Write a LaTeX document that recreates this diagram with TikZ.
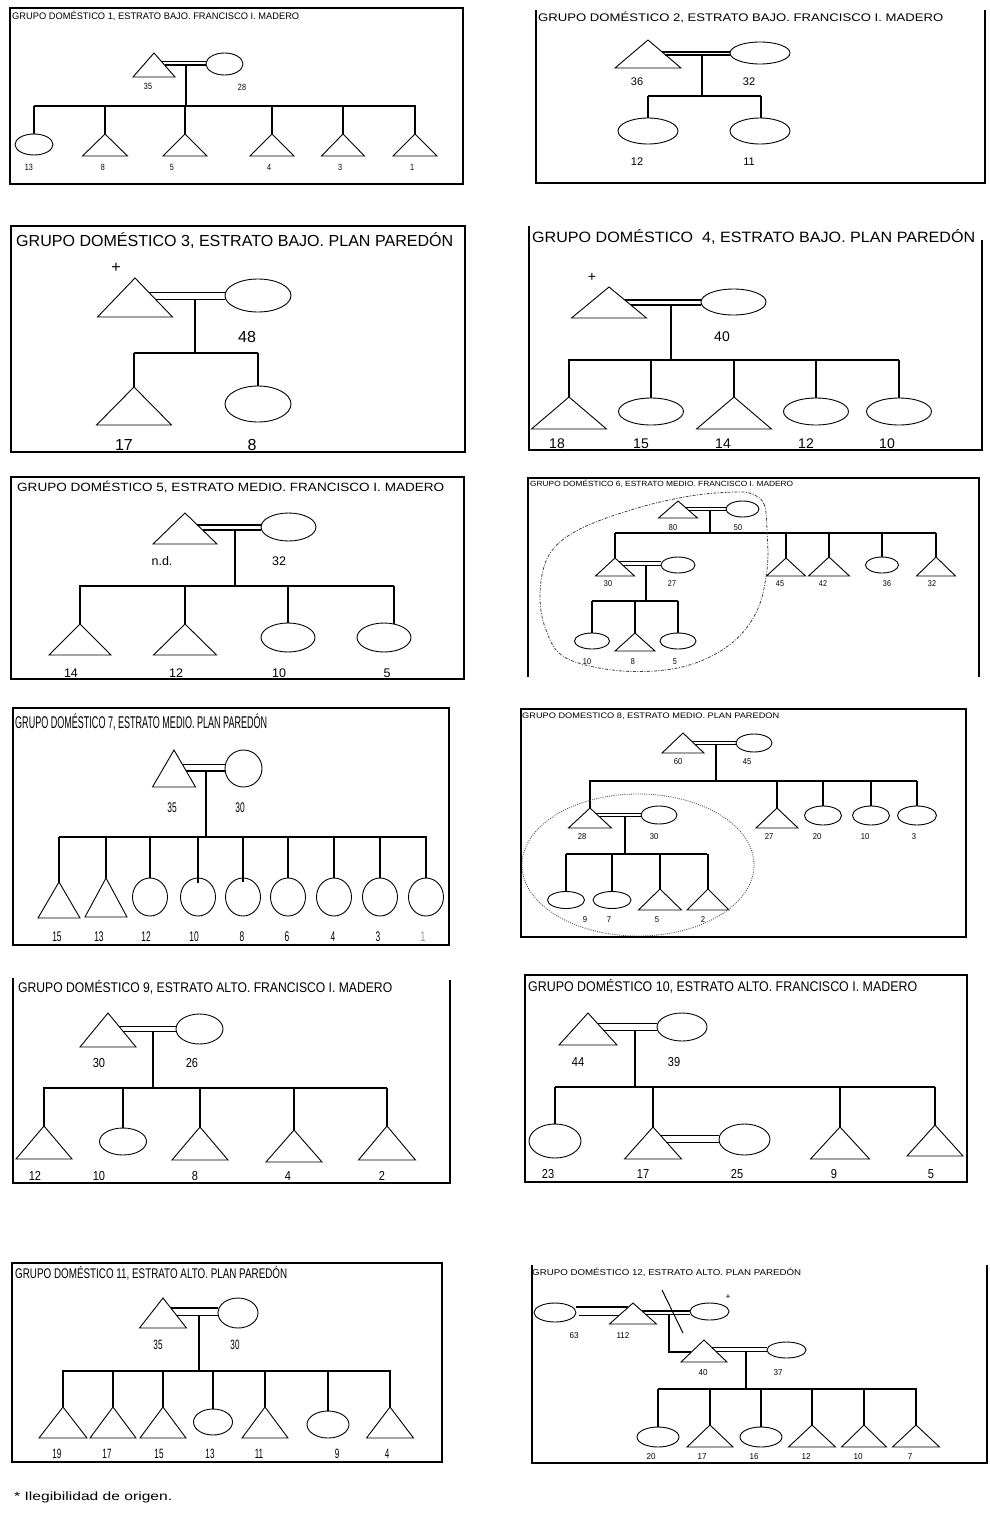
\documentclass[tikz,border=0pt]{standalone}
\usepackage{fontspec}
\setmainfont{Liberation Sans}
\usepackage{graphicx}
\usetikzlibrary{shapes.geometric,calc}
\tikzset{
 box/.style={line width=2.4pt},
 shp/.style={line width=0.9pt, line join=miter},
 ell/.style={ellipse, draw, line width=0.9pt, inner sep=0pt, outer sep=0pt},
 tribox/.style={rectangle, inner sep=0pt, outer sep=0pt},
 link/.style={line width=2pt},
 marr/.style={line width=1.5pt},
 lab/.style={inner sep=0pt},
 ttl/.style={anchor=west, inner sep=0pt},
 dashdotline/.style={line width=0.8pt, black!75, dash pattern=on 3pt off 1.5pt on 1pt off 1.5pt},
 dotline/.style={line width=0.8pt, black!70, dash pattern=on 1pt off 1.2pt},
}
\newcommand\Tri[5]{\node[tribox, minimum width=#4pt, minimum height=#5pt] (#1) at (#2,{#3+#5/2}) {};
 \draw[shp] (#1.south west) -- (#1.north) -- (#1.south east) -- cycle;}
\newcommand\Ell[5]{\node[ell, minimum width=#4pt, minimum height=#5pt] (#1) at (#2,#3) {};}
\newcommand\Marr[4]{%
 \coordinate (#1ma) at ($(#1.north)!#3!(#1.south east)$);
 \coordinate (#1mb) at ($(#1.north)!#4!(#1.south east)$);
 \draw[marr] (#1ma) -- (#1ma -| #2.west);
 \draw[marr] (#1mb) -- (#1mb -| #2.west);}
\newcommand\Desc[4]{\coordinate (#4) at (#2,#3); \draw[link] (#4 |- #1mb) -- (#4);}
\newcommand\Bar[4]{\coordinate (#1l) at (#2,#4); \coordinate (#1r) at (#3,#4); \draw[link] (#1l) -- (#1r);}
\newcommand\Drop[2]{\draw[link] (#1.north) -- (#1.north |- #2);}
\newcommand\Lab[4]{\node[lab] (#1) at (#2,#3) {\scalebox{\labsx}[1]{#4}};}
\newcommand\Ttl[6]{\node[ttl] (#1) at (#2,#3) {\resizebox{#4pt}{\height}{\fontsize{#5}{#5}\selectfont #6}};}
\begin{document}
\begin{tikzpicture}[x=1pt,y=-1pt]
\useasboundingbox (0,0) rectangle (990,1518);
\fill[white] (0,0) rectangle (990,1518);

% ---------------- Panel 1
\begin{scope}[font=\fontsize{9}{9}\selectfont]
\def\labsx{0.8}
\Ttl{t1}{12}{16}{287}{9.5}{GRUPO DOMÉSTICO 1, ESTRATO BAJO. FRANCISCO I. MADERO}
\Tri{p1f}{154}{53}{42}{24}
\Ell{p1m}{224.5}{64}{37}{22}
\Marr{p1f}{p1m}{0.36}{0.5}
\Desc{p1f}{186}{106}{p1v}
\Bar{p1b}{34}{416}{106}
\Ell{p1c1}{34}{144.5}{38}{21}
\Tri{p1c2}{105}{134}{45}{22}
\Tri{p1c3}{185}{134}{44}{22}
\Tri{p1c4}{272}{134}{44}{22}
\Tri{p1c5}{343}{134}{43}{22}
\Tri{p1c6}{415}{134}{44}{22}
\foreach \c in {p1c1,p1c2,p1c3,p1c4,p1c5,p1c6} {\Drop{\c}{p1bl}}
\Lab{p1l1}{148}{86}{35}
\Lab{p1l2}{242}{87}{28}
\Lab{p1l3}{29}{167}{13}
\Lab{p1l4}{103}{167}{8}
\Lab{p1l5}{172}{167}{5}
\Lab{p1l6}{269}{167}{4}
\Lab{p1l7}{340}{167}{3}
\Lab{p1l8}{412}{167}{1}
\draw[box] (10,8) rectangle (463,184);
\end{scope}

% ---------------- Panel 2
\begin{scope}[font=\fontsize{11}{11}\selectfont]
\def\labsx{1}
\Ttl{t2}{538}{17}{405}{11}{GRUPO DOMÉSTICO 2, ESTRATO BAJO. FRANCISCO I. MADERO}
\Tri{p2f}{648}{40}{66}{28}
\Ell{p2m}{760}{53}{60}{22}
\Marr{p2f}{p2m}{0.42}{0.53}
\Desc{p2f}{702}{96}{p2v}
\Bar{p2b}{648}{761}{96}
\Ell{p2c1}{648}{131}{60}{26}
\Ell{p2c2}{760}{131}{60}{26}
\Drop{p2c1}{p2bl}
\draw[link] ([xshift=1pt]p2c2.north) -- ([xshift=1pt]p2c2.north |- p2bl);
\Lab{p2l1}{637}{82}{36}
\Lab{p2l2}{749}{82}{32}
\Lab{p2l3}{637}{162}{12}
\Lab{p2l4}{749}{162}{11}
\draw[box] (536,10) -- (536,183) -- (985,183) -- (985,10);
\end{scope}

% ---------------- Panel 3
\begin{scope}[font=\fontsize{16}{16}\selectfont]
\def\labsx{1}
\Ttl{t3}{16}{241}{437}{16}{GRUPO DOMÉSTICO 3, ESTRATO BAJO. PLAN PAREDÓN}
\node[lab] (p3plus) at (116,268) {+};
\Tri{p3f}{135}{278}{75}{39}
\Ell{p3m}{258}{295.5}{66}{33}
\Marr{p3f}{p3m}{0.377}{0.546}
\Desc{p3f}{195}{353}{p3v}
\Bar{p3b}{134}{258}{353}
\Tri{p3c1}{134}{387}{75}{38}
\Ell{p3c2}{258}{404}{66}{36}
\Drop{p3c1}{p3bl}
\Drop{p3c2}{p3bl}
\Lab{p3l1}{247}{337}{48}
\Lab{p3l2}{124}{445}{17}
\Lab{p3l3}{252}{445}{8}
\fill[white] (11,452) rectangle (465,470);
\draw[box] (11,226) rectangle (465,452);
\end{scope}

% ---------------- Panel 4
\begin{scope}[font=\fontsize{14}{14}\selectfont]
\def\labsx{1}
\Ttl{t4}{532}{237}{443}{15}{GRUPO DOMÉSTICO\ \ 4, ESTRATO BAJO. PLAN PAREDÓN}
\node[lab] (p4plus) at (592,277) {+};
\Tri{p4f}{609}{287}{75}{31}
\Ell{p4m}{733.5}{302}{65}{26}
\Marr{p4f}{p4m}{0.42}{0.58}
\Desc{p4f}{671}{360}{p4v}
\Bar{p4b}{568}{899}{360}
\Tri{p4c1}{569}{397}{75}{32}
\Ell{p4c2}{651}{411.5}{65}{27}
\Tri{p4c3}{734}{397}{75}{32}
\Ell{p4c4}{816}{411.5}{65}{27}
\Ell{p4c5}{899}{411.5}{65}{27}
\foreach \c in {p4c1,p4c2,p4c3,p4c4,p4c5} {\Drop{\c}{p4bl}}
\Lab{p4l1}{722}{337}{40}
\Lab{p4l2}{557}{444}{18}
\Lab{p4l3}{641}{444}{15}
\Lab{p4l4}{723}{444}{14}
\Lab{p4l5}{806}{444}{12}
\Lab{p4l6}{887}{444}{10}
\draw[box] (529,226) -- (529,450) -- (982,450) -- (982,240);
\end{scope}

% ---------------- Panel 5
\begin{scope}[font=\fontsize{12.5}{12.5}\selectfont]
\def\labsx{1}
\Ttl{t5}{17}{487}{427}{12}{GRUPO DOMÉSTICO 5, ESTRATO MEDIO. FRANCISCO I. MADERO}
\Tri{p5f}{185}{513}{64}{31}
\Ell{p5m}{288.5}{527}{55}{28}
\Marr{p5f}{p5m}{0.387}{0.548}
\Desc{p5f}{235}{586}{p5v}
\Bar{p5b}{79}{394}{586}
\Tri{p5c1}{80}{624}{62}{31}
\Tri{p5c2}{185}{624}{63}{31}
\Ell{p5c3}{288}{637.5}{54}{29}
\Ell{p5c4}{384}{637.5}{54}{29}
\Drop{p5c1}{p5bl}
\Drop{p5c2}{p5bl}
\Drop{p5c3}{p5bl}
\draw[link] ([xshift=10pt,yshift=-1pt]p5c4.north) -- ([xshift=10pt]p5c4.north |- p5bl);
\Lab{p5l1}{162}{561}{n.d.}
\Lab{p5l2}{279}{561}{32}
\Lab{p5l3}{71}{673}{14}
\Lab{p5l4}{176}{673}{12}
\Lab{p5l5}{279}{673}{10}
\Lab{p5l6}{387}{673}{5}
\fill[white] (11,679) rectangle (464,695);
\draw[box] (11,477) rectangle (464,679);
\end{scope}

% ---------------- Panel 6
\begin{scope}[font=\fontsize{8.5}{8.5}\selectfont]
\def\labsx{0.85}
\Ttl{t6}{530}{484}{263}{7.5}{GRUPO DOMÉSTICO 6, ESTRATO MEDIO. FRANCISCO I. MADERO}
\Tri{p6f}{678}{501}{39}{17}
\Ell{p6m}{742.5}{509}{33}{16}
\Marr{p6f}{p6m}{0.37}{0.57}
\Desc{p6f}{710}{532.7}{p6v}
\Bar{p6b}{615}{936}{532.7}
\Tri{p6a}{615}{558}{39}{18}
\Ell{p6a2}{678}{565}{34}{16}
\Marr{p6a}{p6a2}{0.2}{0.43}
\Desc{p6a}{646}{600.7}{p6w}
\Bar{p6g}{592}{678}{600.7}
\Ell{p6g1}{592}{641}{35}{16}
\Tri{p6g2}{635}{633}{40}{18}
\Ell{p6g3}{678}{641}{36}{16}
\foreach \c in {p6g1,p6g2,p6g3} {\Drop{\c}{p6gl}}
\Tri{p6b2}{786}{558}{39}{18}
\Tri{p6c}{829}{557}{41}{19}
\Ell{p6d}{882}{565}{33}{16}
\Tri{p6e}{936}{557}{39}{19}
\foreach \c in {p6a,p6b2,p6c,p6d,p6e} {\Drop{\c}{p6bl}}
\Lab{p6l1}{673}{528}{80}
\Lab{p6l2}{738}{528}{50}
\Lab{p6l3}{608}{584}{30}
\Lab{p6l4}{672}{584}{27}
\Lab{p6l5}{780}{584}{45}
\Lab{p6l6}{823}{584}{42}
\Lab{p6l7}{887}{584}{36}
\Lab{p6l8}{932}{584}{32}
\Lab{p6l9}{587}{662}{10}
\Lab{p6l10}{633}{662}{8}
\Lab{p6l11}{675}{662}{5}
\draw[dashdotline] plot[smooth cycle, tension=0.6] coordinates {(752,494) (764,504) (767,530) (767,570) (756,613) (728,646) (682,667) (622,671) (566,658) (546,630) (540,593) (549,555) (578,530) (634,509) (690,496) (735,492)};
\draw[box] (528,677) -- (528,478) -- (979,478) -- (979,677);
\end{scope}

% ---------------- Panel 7
\begin{scope}[font=\fontsize{14}{14}\selectfont]
\def\labsx{0.6}
\Ttl{t7}{15}{722}{252}{17}{GRUPO DOMÉSTICO 7, ESTRATO MEDIO. PLAN PAREDÓN}
\Tri{p7f}{174}{750}{43}{37}
\Ell{p7m}{243.5}{768.5}{37}{37}
\Marr{p7f}{p7m}{0.386}{0.57}
\Desc{p7f}{206}{836.7}{p7v}
\Bar{p7b}{59}{427}{836.7}
\Tri{p7c1}{59}{882}{42}{36}
\Tri{p7c2}{106}{878}{42}{39}
\Ell{p7c3}{150}{897}{35}{38}
\Ell{p7c4}{198}{897}{35}{38}
\Ell{p7c5}{243}{897}{35}{38}
\Ell{p7c6}{288}{897}{35}{38}
\Ell{p7c7}{334}{897}{35}{38}
\Ell{p7c8}{380}{897}{35}{38}
\Ell{p7c9}{426}{897}{35}{38}
\foreach \c in {p7c1,p7c2,p7c3,p7c6,p7c7,p7c8,p7c9} {\Drop{\c}{p7bl}}
\draw[link] ([yshift=-5pt]p7c4.north) -- (p7c4.north |- p7bl);
\draw[link] ([yshift=-4pt]p7c5.north) -- (p7c5.north |- p7bl);
\Lab{p7l1}{172}{808}{35}
\Lab{p7l2}{240}{808}{30}
\Lab{p7l3}{57}{937}{15}
\Lab{p7l4}{99}{937}{13}
\Lab{p7l5}{146}{937}{12}
\Lab{p7l6}{194}{937}{10}
\Lab{p7l7}{242}{937}{8}
\Lab{p7l8}{287}{937}{6}
\Lab{p7l9}{333}{937}{4}
\Lab{p7l10}{378}{937}{3}
\Lab{p7l11}{423}{937}{\textcolor{black!45}{1}}
\draw[box] (13,708) rectangle (449,945);
\end{scope}

% ---------------- Panel 8
\begin{scope}[font=\fontsize{8.5}{8.5}\selectfont]
\def\labsx{0.9}
\Ttl{t8}{522}{716}{257}{8}{GRUPO DOMESTICO 8, ESTRATO MEDIO. PLAN PAREDON}
\Tri{p8f}{683}{733}{42}{20}
\Ell{p8m}{754}{743}{36}{18}
\Marr{p8f}{p8m}{0.435}{0.565}
\Desc{p8f}{716}{780.7}{p8v}
\Bar{p8b}{589}{917}{780.7}
\Tri{p8a}{590}{808}{43}{20}
\Ell{p8a2}{659}{815}{36}{18}
\Marr{p8a}{p8a2}{0.27}{0.435}
\Desc{p8a}{625}{854}{p8w}
\Bar{p8g}{566}{707}{854}
\Ell{p8g1}{566}{900}{37}{17}
\Ell{p8g2}{612}{900}{38}{17}
\Tri{p8g3}{660}{889}{43}{21}
\Tri{p8g4}{708}{889}{42}{21}
\foreach \c in {p8g1,p8g2,p8g3,p8g4} {\Drop{\c}{p8gl}}
\Tri{p8b2}{777}{808}{42}{20}
\Ell{p8c}{823}{815.5}{37}{19}
\Ell{p8d}{871}{815.5}{37}{19}
\Ell{p8e}{917}{815.5}{39}{19}
\foreach \c in {p8a,p8b2,p8c,p8d,p8e} {\Drop{\c}{p8bl}}
\Lab{p8l1}{678}{762}{60}
\Lab{p8l2}{747}{762}{45}
\Lab{p8l3}{582}{837}{28}
\Lab{p8l4}{654}{837}{30}
\Lab{p8l5}{769}{837}{27}
\Lab{p8l6}{817}{837}{20}
\Lab{p8l7}{865}{837}{10}
\Lab{p8l8}{914}{837}{3}
\Lab{p8l9}{585}{920}{9}
\Lab{p8l10}{609}{920}{7}
\Lab{p8l11}{657}{920}{5}
\Lab{p8l12}{703}{920}{2}
\draw[dotline] (638,865) ellipse [x radius=116, y radius=71];
\draw[box] (521,709) rectangle (966,937);
\end{scope}

% ---------------- Panel 9
\begin{scope}[font=\fontsize{13}{13}\selectfont]
\def\labsx{0.85}
\Ttl{t9}{18}{987}{374}{14}{GRUPO DOMÉSTICO 9, ESTRATO ALTO. FRANCISCO I. MADERO}
\Tri{p9f}{108}{1013}{56}{34}
\Ell{p9m}{199.5}{1029}{47}{30}
\Marr{p9f}{p9m}{0.40}{0.55}
\Desc{p9f}{153}{1088.3}{p9v}
\Bar{p9b}{43}{387}{1088.3}
\Tri{p9c1}{44}{1126}{56}{33}
\Ell{p9c2}{123}{1141.5}{47}{27}
\Tri{p9c3}{200}{1127}{56}{33}
\Tri{p9c4}{294}{1130}{56}{32}
\Tri{p9c5}{387}{1126}{57}{34}
\foreach \c in {p9c1,p9c2,p9c3,p9c4,p9c5} {\Drop{\c}{p9bl}}
\Lab{p9l1}{99}{1063}{30}
\Lab{p9l2}{192}{1063}{26}
\Lab{p9l3}{35}{1176}{12}
\Lab{p9l4}{99}{1176}{10}
\Lab{p9l5}{195}{1176}{8}
\Lab{p9l6}{288}{1176}{4}
\Lab{p9l7}{382}{1176}{2}
\draw[box] (13,978) -- (13,1183) -- (450,1183) -- (450,980);
\end{scope}

% ---------------- Panel 10
\begin{scope}[font=\fontsize{13}{13}\selectfont]
\def\labsx{0.85}
\Ttl{t10}{528}{986}{389}{14}{GRUPO DOMÉSTICO 10, ESTRATO ALTO. FRANCISCO I. MADERO}
\Tri{p10f}{588}{1013}{58}{32}
\Ell{p10m}{682}{1027}{50}{28}
\Marr{p10f}{p10m}{0.32}{0.55}
\Desc{p10f}{635}{1087.3}{p10v}
\Bar{p10b}{555}{935}{1087.3}
\Ell{p10c1}{555}{1141}{52}{34}
\Tri{p10c2}{653}{1127}{57}{32}
\Ell{p10c2m}{744.5}{1139.5}{51}{31}
\Marr{p10c2}{p10c2m}{0.27}{0.48}
\Tri{p10c3}{840}{1127}{59}{32}
\Tri{p10c4}{935}{1125}{56}{31}
\foreach \c in {p10c1,p10c2,p10c3,p10c4} {\Drop{\c}{p10bl}}
\Lab{p10l1}{578}{1062}{44}
\Lab{p10l2}{674}{1062}{39}
\Lab{p10l3}{548}{1174}{23}
\Lab{p10l4}{643}{1174}{17}
\Lab{p10l5}{737}{1174}{25}
\Lab{p10l6}{834}{1174}{9}
\Lab{p10l7}{931}{1174}{5}
\draw[box] (525,975) rectangle (967,1182);
\end{scope}

% ---------------- Panel 11
\begin{scope}[font=\fontsize{13.5}{13.5}\selectfont]
\def\labsx{0.6}
\Ttl{t11}{15}{1273}{272}{14}{GRUPO DOMÉSTICO 11, ESTRATO ALTO. PLAN PAREDÓN}
\Tri{p11f}{163}{1298}{47}{30}
\Ell{p11m}{238}{1313}{40}{30}
\Marr{p11f}{p11m}{0.34}{0.59}
\Desc{p11f}{199}{1371}{p11v}
\coordinate (p11bl) at (62,1371); \coordinate (p11br) at (391,1371);
\draw[link, line width=2.6pt] (p11bl) -- (p11br);
\Tri{p11c1}{63}{1407}{48}{31}
\Tri{p11c2}{113}{1407}{46}{31}
\Tri{p11c3}{163}{1407}{46}{31}
\Ell{p11c4}{213}{1422}{39}{26}
\Tri{p11c5}{265}{1407}{46}{31}
\Ell{p11c6}{328}{1424.5}{42}{27}
\Tri{p11c7}{390}{1407}{47}{31}
\foreach \c in {p11c1,p11c2,p11c3,p11c4,p11c5,p11c6,p11c7} {\Drop{\c}{p11bl}}
\Lab{p11l1}{158}{1345}{35}
\Lab{p11l2}{235}{1345}{30}
\Lab{p11l3}{57}{1454}{19}
\Lab{p11l4}{107}{1454}{17}
\Lab{p11l5}{159}{1454}{15}
\Lab{p11l6}{210}{1454}{13}
\Lab{p11l7}{259}{1454}{11}
\Lab{p11l8}{337}{1454}{9}
\Lab{p11l9}{387}{1454}{4}
\draw[box] (12,1263) rectangle (442,1462);
\end{scope}

% ---------------- Panel 12
\begin{scope}[font=\fontsize{8.5}{8.5}\selectfont]
\def\labsx{0.95}
\Ttl{t12}{532}{1272}{269}{8.5}{GRUPO DOMÉSTICO 12, ESTRATO ALTO. PLAN PAREDÓN}
\Ell{p12w1}{555}{1312.5}{42}{19}
\Tri{p12h}{633}{1303}{47}{21}
\Ell{p12w2}{709.5}{1311.5}{39}{17}
\node[lab] (p12plus) at (728,1297) {+};
\coordinate (p12ha) at ($(p12h.north)!0.2!(p12h.south west)$);
\coordinate (p12hb) at ($(p12h.north)!0.6!(p12h.south west)$);
\draw[marr] (p12w1.east |- p12ha) -- (p12ha);
\draw[marr] ([xshift=3pt]p12w1.east |- p12hb) -- (p12hb);
\Marr{p12h}{p12w2}{0.38}{0.54}
\coordinate (p12x1) at (662,1290); \coordinate (p12x2) at (683,1333);
\draw[line width=1pt] (p12x1) -- (p12x2);
\Tri{p12s}{704}{1340}{46}{22}
\coordinate (p12sl) at ($(p12s.north)!0.545!(p12s.south west)$);
\coordinate (p12v) at (669,1352);
\draw[link] (p12v |- p12hmb) -- (p12v |- p12sl) -- (p12sl);
\Ell{p12sm}{786.5}{1350}{39}{16}
\Marr{p12s}{p12sm}{0.35}{0.53}
\Desc{p12s}{746}{1389}{p12w}
\Bar{p12b}{658}{917}{1389}
\Ell{p12c1}{658}{1437}{42}{20}
\Tri{p12c2}{710}{1425}{46}{22}
\Ell{p12c3}{761}{1437}{42}{20}
\Tri{p12c4}{812}{1425}{47}{22}
\Tri{p12c5}{864}{1425}{45}{22}
\Tri{p12c6}{916}{1425}{47}{22}
\foreach \c in {p12c1,p12c2,p12c3,p12c4,p12c5,p12c6} {\Drop{\c}{p12bl}}
\Lab{p12l1}{574}{1336}{63}
\Lab{p12l2}{623}{1336}{112}
\Lab{p12l3}{703}{1373}{40}
\Lab{p12l4}{778}{1373}{37}
\Lab{p12l5}{651}{1457}{20}
\Lab{p12l6}{702}{1457}{17}
\Lab{p12l7}{754}{1457}{16}
\Lab{p12l8}{806}{1457}{12}
\Lab{p12l9}{858}{1457}{10}
\Lab{p12l10}{910}{1457}{7}
\draw[box] (532,1265) -- (532,1463) -- (987,1463) -- (987,1265);
\end{scope}

% ---------------- Footnote
\Ttl{fn}{14}{1497}{158}{12}{* Ilegibilidad de origen.}
\end{tikzpicture}
\end{document}
